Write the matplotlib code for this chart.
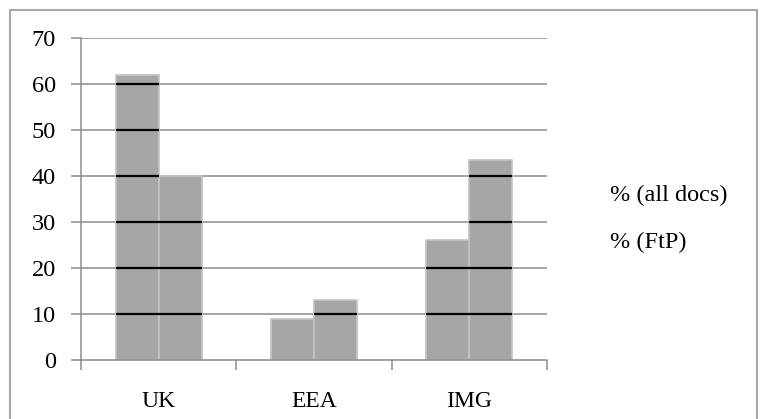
import matplotlib.pyplot as plt
import numpy as np
from matplotlib.patches import Rectangle

categories = ["UK", "EEA", "IMG"]
all_docs = [62, 9, 26]
ftp = [40, 13, 43.5]
series_labels = ["% (all docs)", "% (FtP)"]
y_ticks = [0, 10, 20, 30, 40, 50, 60, 70]

plt.rcParams['font.family'] = ['Liberation Serif', 'DejaVu Serif']

fig = plt.figure(figsize=(7.6, 4.19), dpi=100)
ax = fig.add_axes([0.1066, 0.1408, 0.6131, 0.7685])

x = np.arange(len(categories))
w = 0.277
bar_color = "#a6a6a6"
b1 = ax.bar(x - w / 2, all_docs, w, color=bar_color, edgecolor="#c4c4c4", linewidth=1.2, zorder=2)
b2 = ax.bar(x + w / 2, ftp, w, color=bar_color, edgecolor="#c4c4c4", linewidth=1.2, zorder=2)

# grey gridlines, darker where they cross the bars
for v in y_ticks[1:]:
    ax.axhline(v, color="#8c8c8c", linewidth=1.1, zorder=1)
for bars in (b1, b2):
    for rect in bars:
        for v in y_ticks[1:]:
            if v < rect.get_height():
                ax.hlines(v, rect.get_x(), rect.get_x() + rect.get_width(),
                          color="black", linewidth=1.6, zorder=3)

ax.set_xlim(-0.5, len(categories) - 0.5)
ax.set_ylim(0, 70)
ax.set_yticks(y_ticks)
ax.set_xticks(x)
ax.set_xticklabels(categories)
ax.set_xticks(np.arange(len(categories) + 1) - 0.5, minor=True)
ax.tick_params(axis="x", which="major", length=0, pad=22, labelsize=17)
ax.tick_params(axis="x", which="minor", length=7, color="#8c8c8c", width=1.1)
ax.tick_params(axis="y", length=7, color="#8c8c8c", width=1.1, pad=11, labelsize=17.5)

for s in ("top", "right"):
    ax.spines[s].set_visible(False)
for s in ("left", "bottom"):
    ax.spines[s].set_color("#8c8c8c")
    ax.spines[s].set_linewidth(1.1)

# legend drawn as plain text labels
fig.text(0.803, 0.533, series_labels[0], fontsize=17.5, va="center", ha="left")
fig.text(0.803, 0.422, series_labels[1], fontsize=17.5, va="center", ha="left")

# outer chart frame
fig.patches.append(Rectangle((0.013, -0.01), 0.983, 0.987, transform=fig.transFigure,
                             fill=False, edgecolor="#a8a8a8", linewidth=1.5))

fig.savefig("out.png", dpi=100)
